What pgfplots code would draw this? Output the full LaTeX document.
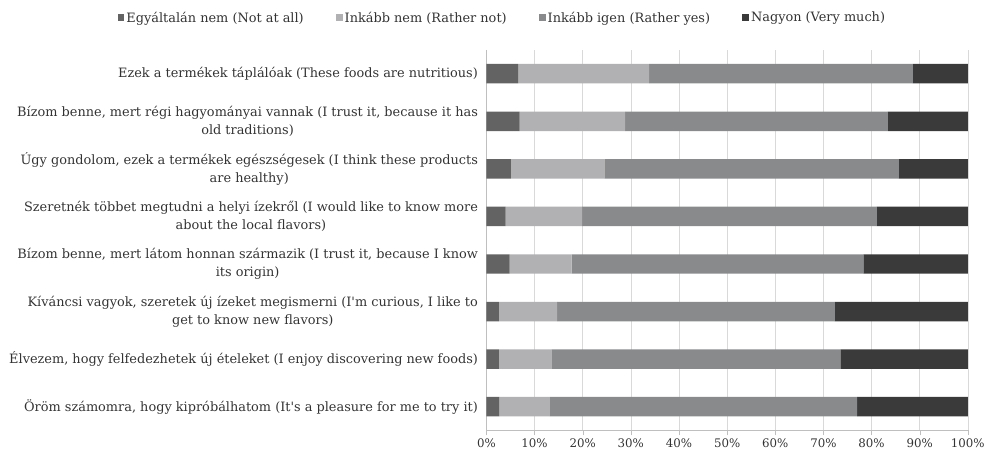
\documentclass[border=0pt]{standalone}
\usepackage{pgfplots}
\pgfplotsset{compat=1.18}
\usepackage{fontspec}
\setmainfont{DejaVu Serif}[Ligatures=TeXOff]
\definecolor{cA}{HTML}{636363}
\definecolor{cB}{HTML}{B1B1B3}
\definecolor{cC}{HTML}{898A8C}
\definecolor{cD}{HTML}{3A3A3A}
\definecolor{txt}{HTML}{333333}
\begin{document}
\begin{tikzpicture}
\begin{axis}[
  xbar stacked,
  width=482pt, height=381pt, scale only axis,
  xmin=0, xmax=100,
  ymin=-0.5, ymax=7.5, y dir=reverse,
  bar width=19.5pt,
  ytick={0,...,7},
  yticklabels={
    {Ezek a termékek táplálóak (These foods are nutritious)},
    {Bízom benne, mert régi hagyományai vannak (I trust it, because it has\\old traditions)},
    {Úgy gondolom, ezek a termékek egészségesek (I think these products\\are healthy)},
    {Szeretnék többet megtudni a helyi ízekről (I would like to know more\\about the local flavors)},
    {Bízom benne, mert látom honnan származik (I trust it, because I know\\its origin)},
    {Kíváncsi vagyok, szeretek új ízeket megismerni (I'm curious, I like to\\get to know new flavors)},
    {Élvezem, hogy felfedezhetek új ételeket (I enjoy discovering new foods)},
    {Öröm számomra, hogy kipróbálhatom (It's a pleasure for me to try it)}},
  yticklabel style={align=center, font=\fontsize{12.9}{18}\selectfont, text=txt},
  ytick style={draw=none},
  xtick={0,10,...,100},
  xticklabel={\pgfmathprintnumber{\tick}\%},
  xticklabel style={font=\fontsize{11.8}{14}\selectfont, text=txt, /pgf/number format/assume math mode=true},
  tick align=outside, major tick length=5pt,
  xtick style={gray!50},
  axis x line*=bottom, axis y line*=left,
  axis line style={gray!50},
  xmajorgrids, grid style={gray!30},
  legend columns=4,
  legend style={draw=none, at={(0.033,1.058)}, anchor=south,
    font=\fontsize{12.9}{15}\selectfont, text=txt,
    /tikz/every even column/.append style={column sep=30pt}},
  legend image code/.code={\fill[#1] (0pt,-3.5pt) rectangle (7pt,3.5pt);},
]
\addplot[fill=cA, draw=none] coordinates {(6.6,0) (6.9,1) (5.1,2) (4.0,3) (4.8,4) (2.6,5) (2.6,6) (2.7,7)};
\addplot[fill=cB, draw=none] coordinates {(27.2,0) (21.9,1) (19.4,2) (15.9,3) (12.9,4) (12.1,5) (10.9,6) (10.5,7)};
\addplot[fill=cC, draw=none] coordinates {(54.8,0) (54.6,1) (61.2,2) (61.2,3) (60.6,4) (57.7,5) (60.0,6) (63.8,7)};
\addplot[fill=cD, draw=none] coordinates {(11.4,0) (16.6,1) (14.3,2) (18.9,3) (21.7,4) (27.6,5) (26.5,6) (23.0,7)};
\legend{Egyáltalán nem (Not at all), Inkább nem (Rather not), Inkább igen (Rather yes), Nagyon (Very much)}
\end{axis}
\path (current axis.south west) ++(-487pt,-26pt) rectangle ++(988pt,457pt);
\end{tikzpicture}
\end{document}
